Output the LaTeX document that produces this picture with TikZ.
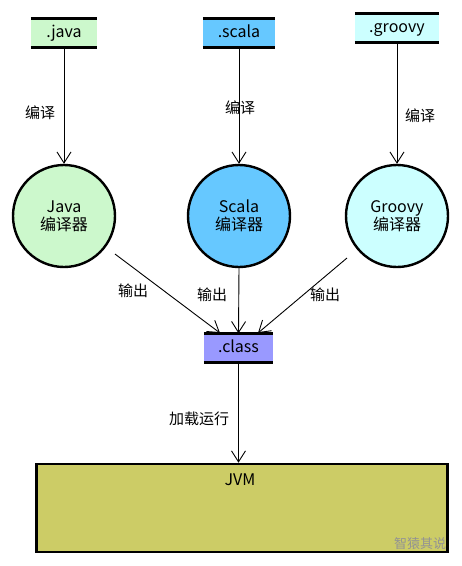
\documentclass[tikz,border=0pt]{standalone}
\usepackage{fontspec}
\setmainfont{Noto Sans CJK SC}
\usetikzlibrary{arrows.meta}
\definecolor{javac}{HTML}{CCF8CC}
\definecolor{scalac}{HTML}{66C8FF}
\definecolor{groovyc}{HTML}{CCFFFF}
\definecolor{classc}{HTML}{9999FF}
\definecolor{jvmc}{HTML}{CCCC66}
\begin{document}
\begin{tikzpicture}[x=1pt,y=-1pt,
  font=\fontsize{15}{18}\selectfont,
  filebox/.style={inner sep=0pt, minimum height=29pt, text height=11pt, text depth=3pt, font=\fontsize{16}{18}\selectfont},
  comp/.style={circle, draw=black, line width=2.4pt, minimum size=102pt, inner sep=0pt, align=center, font=\fontsize{16}{18}\selectfont},
  conn/.style={-{Straight Barb[length=11pt,width=14pt,line width=0.9pt]}, line width=0.9pt},
  edgelbl/.style={font=\fontsize{15}{18}\selectfont},
  bar/.style={line width=3pt}]
\useasboundingbox (0,0) rectangle (462,566);
\fill[white] (0,0) rectangle (462,566);
% file boxes
\node[filebox, fill=javac, minimum width=66pt] (java) at (64,33) {.java};
\node[filebox, fill=scalac, minimum width=72pt] (scala) at (239,33) {.scala};
\node[filebox, fill=groovyc, minimum width=84pt] (groovy) at (397,28) {.groovy};
\node[filebox, fill=classc, minimum width=69pt] (class) at (238.5,348) {.class};
\foreach \n in {java,scala,groovy,class}{
  \draw[bar] (\n.north west) -- (\n.north east);
  \draw[bar] (\n.south west) -- (\n.south east);
}
% compilers
\node[comp, fill=javac] (jc) at (64,216) {Java\\[0pt]编译器};
\node[comp, fill=scalac] (sc) at (239,216) {Scala\\[0pt]编译器};
\node[comp, fill=groovyc] (gc) at (397,216) {Groovy\\[0pt]编译器};
% JVM
\node[draw=black, line width=2.6pt, fill=jvmc, minimum width=411pt, minimum height=88pt, inner sep=0pt] (jvm) at (242,508) {};
\node[font=\fontsize{16}{18}\selectfont] (jvmlbl) at (240,480) {JVM};
\node[text=gray!85, font=\fontsize{13}{15}\selectfont] (wm) at (420,544) {智猿其说};
% connectors
\draw[conn] (java) -- (jc);
\draw[conn] (scala) -- (sc);
\draw[conn] (groovy) -- (gc);
\coordinate (jo) at (115,254);
\coordinate (go) at (347,258);
\coordinate (ci1) at (220,333);
\coordinate (ci3) at (258,333);
\draw[conn] (jo) -- (ci1);
\draw[conn] (sc.south) -- (class.north);
\draw[conn] (go) -- (ci3);
\draw[conn] (class) -- (class |- jvm.north);
% labels
\node[edgelbl] (l1) at (40,113) {编译};
\node[edgelbl] (l2) at (240,108) {编译};
\node[edgelbl] (l3) at (420,116) {编译};
\node[edgelbl] (l4) at (133,291) {输出};
\node[edgelbl] (l5) at (212,295) {输出};
\node[edgelbl] (l6) at (325,295) {输出};
\node[edgelbl] (l7) at (199,419) {加载运行};
\end{tikzpicture}
\end{document}
